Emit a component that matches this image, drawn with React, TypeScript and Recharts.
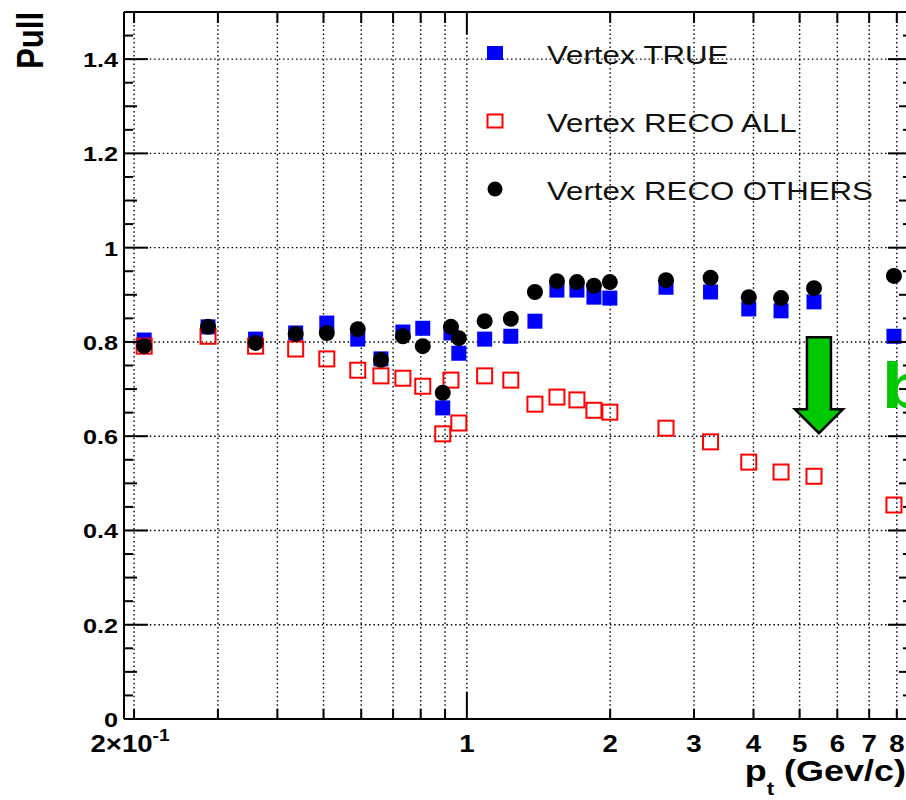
import React from 'react';
import { ScatterChart, Scatter, XAxis, YAxis, CartesianGrid, Legend, ReferenceDot } from 'recharts';

const FONT = "'Liberation Sans', Arial, Helvetica, sans-serif";
const SX = 1.2; // horizontal stretch of the reference picture's lettering

// ---- data ----
const ptBins = [0.21, 0.286, 0.36, 0.437, 0.508, 0.59, 0.66, 0.734, 0.808, 0.89, 0.926, 0.962, 1.09, 1.237, 1.39, 1.546, 1.703, 1.849, 1.997, 2.62, 3.25, 3.91, 4.57, 5.36, 7.89];
const pullTrue = [0.804, 0.832, 0.806, 0.819, 0.840, 0.806, 0.764, 0.821, 0.829, 0.660, 0.819, 0.776, 0.806, 0.812, 0.844, 0.910, 0.910, 0.895, 0.893, 0.916, 0.906, 0.870, 0.866, 0.885, 0.812];
const pullRecoAll = [0.791, 0.812, 0.791, 0.785, 0.764, 0.740, 0.728, 0.723, 0.706, 0.605, 0.719, 0.628, 0.728, 0.719, 0.668, 0.683, 0.677, 0.655, 0.651, 0.617, 0.588, 0.545, 0.524, 0.515, 0.454];
const pullRecoOthers = [0.791, 0.832, 0.798, 0.817, 0.819, 0.827, 0.762, 0.812, 0.791, 0.692, 0.832, 0.808, 0.844, 0.849, 0.906, 0.929, 0.927, 0.919, 0.927, 0.931, 0.936, 0.895, 0.893, 0.914, 0.940];
const seriesNames = ['Vertex TRUE', 'Vertex RECO ALL', 'Vertex RECO OTHERS'];

// ---- axes ----
const xTicks = [0.2, 0.3, 0.4, 0.5, 0.6, 0.7, 0.8, 0.9, 1, 2, 3, 4, 5, 6, 7, 8];
const xTickLabels = ['2×10', '', '', '', '', '', '', '', '1', '2', '3', '4', '5', '6', '7', '8'];
const xGrid = [0.2, 0.3, 0.4, 0.5, 0.6, 0.7, 0.8, 0.9, 1, 2, 3, 4, 5, 6, 7, 8];
const yTicks = [0, 0.05, 0.1, 0.15, 0.2, 0.25, 0.3, 0.35, 0.4, 0.45, 0.5, 0.55, 0.6, 0.65, 0.7, 0.75, 0.8, 0.85, 0.9, 0.95, 1, 1.05, 1.1, 1.15, 1.2, 1.25, 1.3, 1.35, 1.4, 1.45, 1.5];
const yTickLabels = ['0', '0.2', '0.4', '0.6', '0.8', '1', '1.2', '1.4'];
const yGrid = [0.2, 0.4, 0.6, 0.8, 1, 1.2, 1.4];
const xDomain = [0.1905, 8.61];
const yDomain = [0, 1.5];

// ---- annotations ----
const arrowAnchor = { x: 5.49, y: 0.81 };
const letterAnchor = { x: 7.44, y: 0.66, text: 'b' };

const trueData = ptBins.map((x, i) => ({ x, y: pullTrue[i] }));
const recoAllData = ptBins.map((x, i) => ({ x, y: pullRecoAll[i] }));
const recoOthersData = ptBins.map((x, i) => ({ x, y: pullRecoOthers[i] }));

const BLUE = '#0000ff';
const RED = '#ff0000';
const GREEN = '#00c800';

const BlueSquare = (p: any) => <rect x={p.cx - 7.5} y={p.cy - 7.5} width={15} height={15} fill={BLUE} />;
const RedOpenSquare = (p: any) => (
  <rect x={p.cx - 7.5} y={p.cy - 7.5} width={15} height={15} fill="none" stroke={RED} strokeWidth={2} />
);
const BlackDot = (p: any) => <circle cx={p.cx} cy={p.cy} r={8} fill="#000" />;

const BottomTick = (props: any) => {
  const { x, y, payload } = props;
  const v = payload.value;
  const idx = xTicks.indexOf(v);
  const label = idx >= 0 ? xTickLabels[idx] : '';
  const len = v === 1 ? 27 : 10;
  return (
    <g>
      <line x1={x} x2={x} y1={y} y2={y - len} stroke="#000" strokeWidth={2} />
      {label !== '' && (
        <g transform={`translate(${v === 0.2 ? x - 4 : x},${y + 33}) scale(${SX},1)`}>
          <text x={0} y={0} textAnchor="middle" fontSize={23} fontWeight="bold" fontFamily={FONT} fill="#000">
            {label}
            {v === 0.2 && (
              <tspan fontSize={16} dy={-11}>
                -1
              </tspan>
            )}
          </text>
        </g>
      )}
    </g>
  );
};

const TopTick = (props: any) => {
  const { x, y, payload } = props;
  const len = payload.value === 1 ? 22 : 11;
  return <line x1={x} x2={x} y1={y} y2={y + len} stroke="#000" strokeWidth={2} />;
};

const tickLen = (v: number) => {
  const k = Math.round(v * 20);
  return { k, len: k % 4 === 0 ? 24 : k % 2 === 0 ? 13 : 9 };
};

const LeftTick = (props: any) => {
  const { x, y, payload } = props;
  const { k, len } = tickLen(payload.value);
  const label = k % 4 === 0 ? yTickLabels[k / 4] : undefined;
  return (
    <g>
      <line x1={x} x2={x + len} y1={y} y2={y} stroke="#000" strokeWidth={2} />
      {label !== undefined && (
        <g transform={`translate(${x - 6},${y + 8}) scale(${SX},1)`}>
          <text x={0} y={0} textAnchor="end" fontSize={21} fontWeight="bold" fontFamily={FONT} fill="#000">
            {label}
          </text>
        </g>
      )}
    </g>
  );
};

const RightTick = (props: any) => {
  const { x, y, payload } = props;
  const { len } = tickLen(payload.value);
  return <line x1={x} x2={x - len} y1={y} y2={y} stroke="#000" strokeWidth={2} />;
};

const PullTitle = (props: any) => {
  const vb = props.viewBox || { x: 123, y: 12, width: 1 };
  return (
    <g transform={`translate(${vb.x + (vb.width || 0) - 81},${vb.y}) scale(${SX},1) rotate(-90)`}>
      <text x={0} y={0} textAnchor="end" fontSize={31} fontWeight="bold" fontFamily={FONT} fill="#000">
        Pull
      </text>
    </g>
  );
};

const PtTitle = (props: any) => {
  const vb = props.viewBox || { x: 124, y: 719, width: 788 };
  return (
    <g transform={`translate(${vb.x + vb.width - 6},${vb.y + 62}) scale(1.24,1)`}>
      <text x={0} y={0} textAnchor="end" fontSize={29} fontWeight="bold" fontFamily={FONT} fill="#000">
        p
        <tspan fontSize={18} dy={14}>
          t
        </tspan>
        <tspan fontSize={29} dy={-14} dx={8}>
          (Gev/c)
        </tspan>
      </text>
    </g>
  );
};

const ArrowShape = (p: any) => {
  const { cx, cy } = p;
  const pts = [
    [cx - 12, cy],
    [cx + 12, cy],
    [cx + 12, cy + 72],
    [cx + 24, cy + 72],
    [cx, cy + 96],
    [cx - 24, cy + 72],
    [cx - 12, cy + 72],
  ]
    .map((q) => q.join(','))
    .join(' ');
  return <polygon points={pts} fill={GREEN} stroke="#000" strokeWidth={2.5} strokeLinejoin="miter" />;
};

const LetterShape = (p: any) => (
  <g transform={`translate(${p.cx},${p.cy}) scale(${SX},1)`}>
    <text x={0} y={0} fontSize={64} fontWeight="bold" fontFamily={FONT} fill={GREEN}>
      {letterAnchor.text}
    </text>
  </g>
);

const LegendOverlay = () => {
  const rows = [53, 121, 189];
  return (
    <svg width={1000} height={800} style={{ display: 'block' }}>
      {seriesNames.map((name, i) => {
        const cy = rows[i];
        const cx = 495;
        return (
          <g key={name}>
            {i === 0 && <rect x={cx - 8} y={cy - 7} width={16} height={14} fill={BLUE} />}
            {i === 1 && <rect x={cx - 7.5} y={cy - 6.5} width={15} height={13} fill="none" stroke={RED} strokeWidth={2} />}
            {i === 2 && <circle cx={cx} cy={cy} r={7.5} fill="#000" />}
            <g transform={`translate(547,${cy + 11}) scale(${SX},1)`}>
              <text x={0} y={0} fontSize={26} fontFamily={FONT} fill="#111">
                {name}
              </text>
            </g>
          </g>
        );
      })}
    </svg>
  );
};

export default function App() {
  return (
    <div style={{ position: 'absolute', left: 0, top: 0, width: 906, height: 800, overflow: 'hidden', background: '#fff' }}>
      <ScatterChart width={1000} height={800} margin={{ top: 11, right: 87, bottom: 80, left: 123 }}>
        <CartesianGrid
          horizontalValues={yGrid}
          verticalValues={xGrid}
          stroke="#000"
          strokeWidth={1.4}
          strokeDasharray="1.5 2.8"
        />
        <XAxis
          dataKey="x"
          type="number"
          scale="log"
          domain={xDomain}
          allowDataOverflow
          ticks={xTicks}
          interval={0}
          height={1}
          tickSize={0}
          tickMargin={0}
          tickLine={false}
          axisLine={{ stroke: '#000', strokeWidth: 2 }}
          tick={<BottomTick />}
          label={PtTitle}
        />
        <XAxis
          xAxisId="top"
          orientation="top"
          dataKey="x"
          type="number"
          scale="log"
          domain={xDomain}
          allowDataOverflow
          ticks={xTicks}
          interval={0}
          height={1}
          tickSize={0}
          tickMargin={0}
          tickLine={false}
          axisLine={{ stroke: '#000', strokeWidth: 2 }}
          tick={<TopTick />}
        />
        <YAxis
          dataKey="y"
          type="number"
          domain={yDomain}
          allowDataOverflow
          ticks={yTicks}
          interval={0}
          width={1}
          tickSize={0}
          tickMargin={0}
          tickLine={false}
          axisLine={{ stroke: '#000', strokeWidth: 2 }}
          tick={<LeftTick />}
          label={PullTitle}
        />
        <YAxis
          yAxisId="right"
          orientation="right"
          dataKey="y"
          type="number"
          domain={yDomain}
          allowDataOverflow
          ticks={yTicks}
          interval={0}
          width={1}
          tickSize={0}
          tickMargin={0}
          tickLine={false}
          axisLine={{ stroke: '#000', strokeWidth: 2 }}
          tick={<RightTick />}
        />
        <Scatter name={seriesNames[0]} data={trueData} shape={BlueSquare} isAnimationActive={false} />
        <Scatter name={seriesNames[1]} data={recoAllData} shape={RedOpenSquare} isAnimationActive={false} />
        <Scatter name={seriesNames[2]} data={recoOthersData} shape={BlackDot} isAnimationActive={false} />
        <ReferenceDot x={arrowAnchor.x} y={arrowAnchor.y} r={0} shape={ArrowShape} />
        <ReferenceDot x={letterAnchor.x} y={letterAnchor.y} r={0} shape={LetterShape} />
        <Legend
          layout="horizontal"
          verticalAlign="middle"
          align="center"
          wrapperStyle={{ position: 'absolute', left: 0, top: 0, width: 1000, height: 800, pointerEvents: 'none' }}
          content={() => <LegendOverlay />}
        />
      </ScatterChart>
    </div>
  );
}
